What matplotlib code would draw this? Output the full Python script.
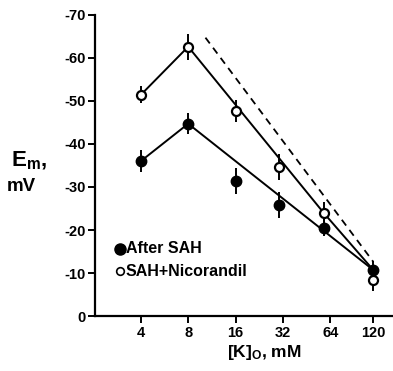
import matplotlib

matplotlib.use("Agg")
import matplotlib.pyplot as plt
from matplotlib.ticker import FixedLocator, NullLocator

plt.rcParams["font.family"] = ["Liberation Sans", "DejaVu Sans"]
plt.rcParams["font.weight"] = "bold"
plt.rcParams["mathtext.fontset"] = "custom"
plt.rcParams["mathtext.rm"] = "Liberation Sans"
plt.rcParams["mathtext.bf"] = "Liberation Sans:bold"
plt.rcParams["mathtext.it"] = "Liberation Sans:bold"

# data
k_conc = [4, 8, 16, 30, 58, 120]
em_after_sah = [-36, -44.7, -31.4, -25.8, -20.5, -10.7]
err_after_sah = [2.5, 2.5, 3, 3, 2, 2]
em_nicorandil = [-51.4, -62.6, -47.7, -34.7, -24, -8.4]
err_nicorandil = [2, 3, 2.5, 3, 2.5, 2.5]

# drawn lines
fit_after_x = [4, 8, 120]
fit_after_y = [-36, -44.7, -10.7]
fit_nico_x = [4, 8, 58, 120]
fit_nico_y = [-51.4, -62.6, -24, -10.7]
nernst_x = [10.3, 120]
nernst_y = [-64.7, -12.6]

xticks = [4, 8, 16, 32, 64, 120]
yticks = [0, -10, -20, -30, -40, -50, -60, -70]

fig = plt.figure(figsize=(3.93, 3.71), dpi=100)
ax = fig.add_axes([0.242, 0.148, 0.758, 0.812])

ax.plot(fit_after_x, fit_after_y, color="black", lw=1.4, zorder=1)
ax.plot(fit_nico_x, fit_nico_y, color="black", lw=1.4, zorder=1)
ax.plot(nernst_x, nernst_y, color="black", lw=1.3, ls=(0, (4, 3)), zorder=1)

ax.errorbar(k_conc, em_after_sah, yerr=err_after_sah, fmt="o", color="black",
            ms=7.5, elinewidth=1.4, capsize=0, zorder=3)
ax.errorbar(k_conc, em_nicorandil, yerr=err_nicorandil, fmt="o", color="black",
            mfc="white", mec="black", mew=1.6, ms=6.5, elinewidth=1.4,
            capsize=0, zorder=3)

ax.set_xscale("log", base=2)
ax.set_xlim(2.05, 160)
ax.set_ylim(0, -70)
ax.xaxis.set_major_locator(FixedLocator(xticks))
ax.xaxis.set_minor_locator(NullLocator())
ax.set_xticklabels([str(t) for t in xticks])
ax.set_yticks(yticks)
ax.set_yticklabels(["0" if t == 0 else "-" + str(-t) for t in yticks])

for side in ("top", "right"):
    ax.spines[side].set_visible(False)
for side in ("left", "bottom"):
    ax.spines[side].set_linewidth(1.6)
ax.tick_params(axis="both", direction="out", length=5, width=1.4,
               labelsize=10.5, pad=2)

# legend drawn as text + markers
ax.plot([2.95], [-15.6], "o", color="black", ms=8, clip_on=False)
ax.plot([2.95], [-10.4], "o", color="black", mfc="white", mew=1.2, ms=5.5,
        clip_on=False)
ax.text(3.22, -15.6, "After SAH", fontsize=11.5, fontweight="bold",
        va="center")
ax.text(3.22, -10.4, "SAH+Nicorandil", fontsize=11.5, fontweight="bold",
        va="center")

fig.text(0.028, 0.567, r"$\mathbf{E}_\mathbf{m}$,", fontsize=16, va="center")
fig.text(0.018, 0.497, "mV", fontsize=13.5, fontweight="bold", va="center")
fig.text(0.672, 0.05, r"$\mathbf{[K]}_\mathbf{O}$, mM", fontsize=12.5,
         fontweight="bold", ha="center", va="center")

fig.savefig("out.png", dpi=100)
